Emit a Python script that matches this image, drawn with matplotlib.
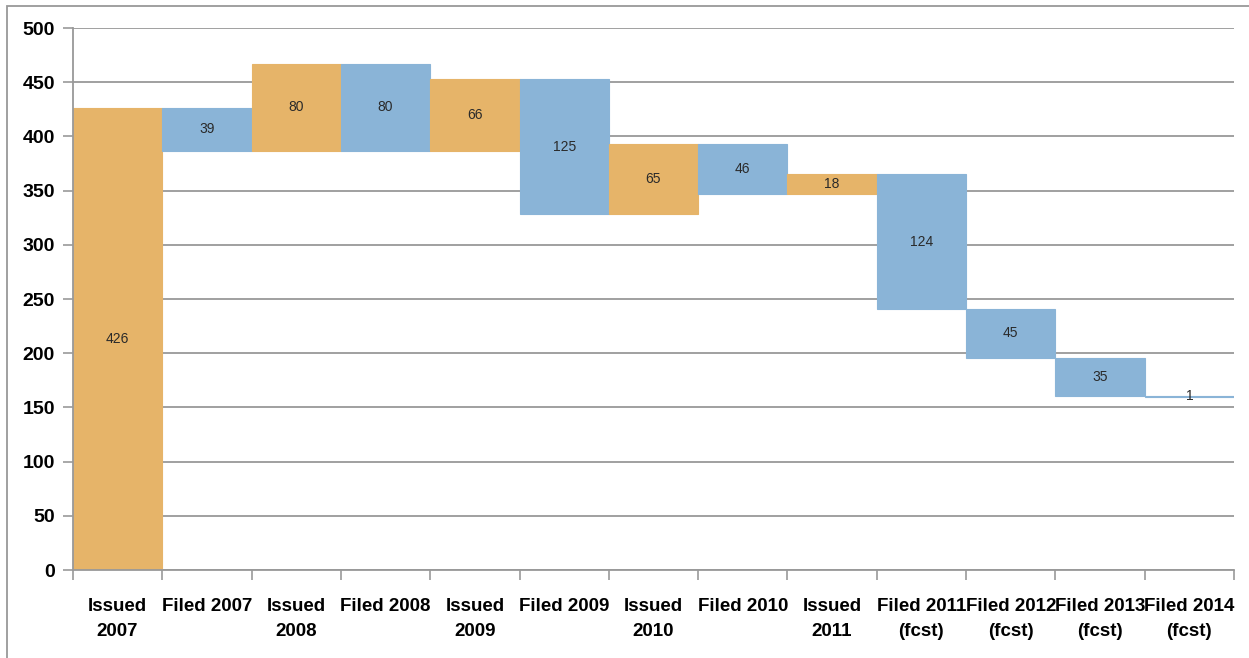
import matplotlib
matplotlib.use('Agg')
import matplotlib.pyplot as plt
import matplotlib.patches as mpatches
import numpy as np

categories = ['Issued\n2007', 'Filed 2007', 'Issued\n2008', 'Filed 2008',
              'Issued\n2009', 'Filed 2009', 'Issued\n2010', 'Filed 2010',
              'Issued\n2011', 'Filed 2011\n(fcst)', 'Filed 2012\n(fcst)',
              'Filed 2013\n(fcst)', 'Filed 2014\n(fcst)']
amounts = [426, 39, 80, 80, 66, 125, 65, 46, 18, 124, 45, 35, 1]
kinds = ['issued', 'filed', 'issued', 'filed', 'issued', 'filed', 'issued',
         'filed', 'issued', 'filed', 'filed', 'filed', 'filed']

colors = {'issued': '#E6B469', 'filed': '#8AB4D7'}

plt.rcParams['font.family'] = ['Liberation Sans', 'DejaVu Sans']

fig = plt.figure(figsize=(12.49, 6.58), dpi=100)
ax = fig.add_axes([0.0584, 0.1337, 0.9296, 0.8237])

# running total: issued raises the level, filed lowers it
level = 0
bottoms = []
for amt, k in zip(amounts, kinds):
    if k == 'issued':
        bottoms.append(level)
        level += amt
    else:
        level -= amt
        bottoms.append(level)

x = np.arange(len(categories))
for xi, amt, b, k in zip(x, amounts, bottoms, kinds):
    ax.bar(xi, amt, bottom=b, width=1.0, color=colors[k],
           edgecolor=colors[k], linewidth=0.8, zorder=2)
    ax.text(xi, b + amt / 2.0, str(amt), ha='center', va='center',
            fontsize=10, color='#2a2a2a', zorder=3)

ax.set_xlim(-0.5, len(categories) - 0.5)
ax.set_ylim(0, 500)
ax.set_yticks(range(0, 501, 50))
ax.yaxis.grid(True, color='#999999', linewidth=1.3, zorder=0)
ax.set_axisbelow(True)

ax.set_xticks(x)
ax.set_xticklabels(categories, fontsize=13.5, fontweight='bold',
                   linespacing=1.6)
ax.set_xticks(np.arange(-0.5, len(categories)), minor=True)
ax.tick_params(axis='x', which='major', length=0, pad=20)
ax.tick_params(axis='x', which='minor', length=7, width=1.2, color='#999999')
ax.tick_params(axis='y', length=7, width=1.2, color='#999999', pad=6,
               labelsize=14)
for lbl in ax.get_yticklabels():
    lbl.set_fontweight('bold')

for s in ['top', 'right']:
    ax.spines[s].set_visible(False)
for s in ['left', 'bottom']:
    ax.spines[s].set_color('#999999')
    ax.spines[s].set_linewidth(1.3)

# outer chart frame
frame = mpatches.Rectangle((7 / 1249, -0.2), 1.2, 1.2 - 6 / 658,
                           transform=fig.transFigure, fill=False,
                           edgecolor='#999999', linewidth=1.3)
fig.patches.append(frame)

plt.savefig('out.png', dpi=100)
